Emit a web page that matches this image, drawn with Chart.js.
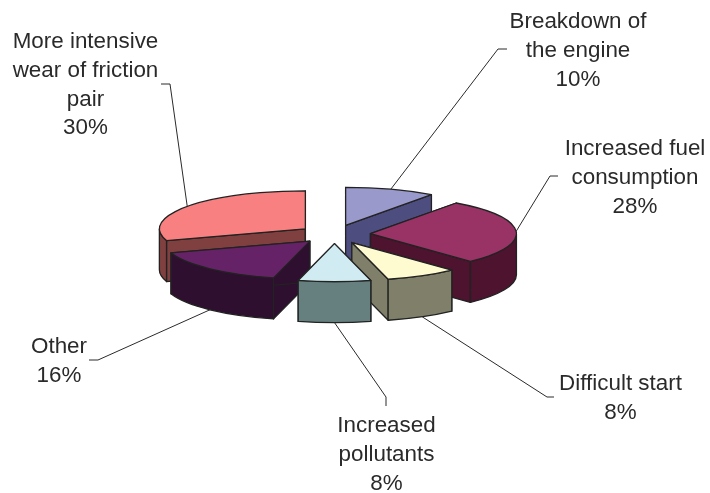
<!DOCTYPE html>
<html lang="en" dir="ltr">
  <head>
    <meta charset="utf-8">
    <title>Consequences of engine wear</title>
    <script src="https://cdn.jsdelivr.net/npm/chart.js@4/dist/chart.umd.js"></script>
    <style>
      html, body { margin: 0; padding: 0; background: #fff; }
      canvas { display: block; }
    </style>
  </head>
  <body>
    <canvas id="chart" width="710" height="493"></canvas>
    <script>
      // Slices run clockwise starting from the wear slice
      const categories = [
        'More intensive wear of friction pair',
        'Breakdown of the engine',
        'Increased fuel consumption',
        'Difficult start',
        'Increased pollutants',
        'Other'
      ];
      const shares = [30, 10, 28, 8, 8, 16];
      const nameLines = [
        ['More intensive', 'wear of friction', 'pair'],
        ['Breakdown of', 'the engine'],
        ['Increased fuel', 'consumption'],
        ['Difficult start'],
        ['Increased', 'pollutants'],
        ['Other']
      ];
      const topColors = ['#f98080', '#9999cc', '#993366', '#fffbd0', '#d0ecf2', '#662266'];
      const wallColors = ['#804040', '#4d4d80', '#4d132f', '#80806a', '#668080', '#2e0f30'];

      // where each caption sits and where its leader line bends
      const captions = [
        { x: 85.5, y: 48, elbow: [170, 84], end: [161, 84] },
        { x: 578, y: 28, elbow: [498, 49], end: [507, 49] },
        { x: 635, y: 155, elbow: [550, 176], end: [558, 176] },
        { x: 620.5, y: 390, elbow: [547, 397], end: [554, 397] },
        { x: 386.5, y: 432, elbow: [386, 397], end: [386, 406] },
        { x: 59, y: 353, elbow: [98, 360], end: [89, 360] }
      ];

      const TILT = 0.26;      // squash of the pie circle
      const DEPTH = 41;       // wall height
      const EXPLODE = 36;     // how far slices move out
      const LINE_HEIGHT = 28.8;

      function sliceGeometry(arc) {
        const { x, y, startAngle, endAngle, outerRadius } = arc.getProps(['x', 'y', 'startAngle', 'endAngle', 'outerRadius']);
        const mid = (startAngle + endAngle) / 2;
        return {
          start: startAngle,
          end: endAngle,
          mid,
          r: outerRadius,
          ox: x + Math.cos(mid) * EXPLODE,
          oy: y + Math.sin(mid) * EXPLODE * TILT
        };
      }

      function rimPoint(g, angle) {
        return [g.ox + Math.cos(angle) * g.r, g.oy + Math.sin(angle) * g.r * TILT];
      }

      function paintFace(ctx, fill, stroke, width) {
        ctx.closePath();
        ctx.fillStyle = fill;
        ctx.fill();
        ctx.strokeStyle = stroke;
        ctx.lineWidth = width;
        ctx.stroke();
      }

      function drawSlice(ctx, arc, wall) {
        const g = sliceGeometry(arc);
        const { backgroundColor, borderColor, borderWidth } = arc.options;

        // flat walls along both cut edges
        [g.start, g.end].forEach(angle => {
          const p = rimPoint(g, angle);
          ctx.beginPath();
          ctx.moveTo(g.ox, g.oy);
          ctx.lineTo(p[0], p[1]);
          ctx.lineTo(p[0], p[1] + DEPTH);
          ctx.lineTo(g.ox, g.oy + DEPTH);
          paintFace(ctx, wall, borderColor, borderWidth);
        });

        // curved wall, only the part turned towards the viewer
        for (let k = -1; k <= 1; k++) {
          const a = Math.max(g.start, k * 2 * Math.PI);
          const b = Math.min(g.end, k * 2 * Math.PI + Math.PI);
          if (b <= a) continue;
          ctx.beginPath();
          ctx.ellipse(g.ox, g.oy, g.r, g.r * TILT, 0, a, b);
          ctx.ellipse(g.ox, g.oy + DEPTH, g.r, g.r * TILT, 0, b, a, true);
          paintFace(ctx, wall, borderColor, borderWidth);
        }

        ctx.beginPath();
        ctx.moveTo(g.ox, g.oy);
        ctx.ellipse(g.ox, g.oy, g.r, g.r * TILT, 0, g.start, g.end);
        paintFace(ctx, backgroundColor, borderColor, borderWidth);
      }

      class ExplodedPieController extends Chart.PieController {
        draw() {
          const ctx = this.chart.ctx;
          // paint back to front so nearer slices cover the walls behind them
          const order = this.getMeta().data
            .map((arc, i) => ({ arc, i, depth: Math.sin(sliceGeometry(arc).mid) }))
            .sort((a, b) => a.depth - b.depth);
          ctx.save();
          ctx.lineJoin = 'round';
          order.forEach(item => drawSlice(ctx, item.arc, wallColors[item.i]));
          ctx.restore();
        }
      }
      ExplodedPieController.id = 'explodedPie';
      ExplodedPieController.defaults = Chart.PieController.defaults;
      Chart.register(ExplodedPieController);

      const captionPlugin = {
        id: 'captions',
        afterDatasetsDraw(chart) {
          const ctx = chart.ctx;
          const arcs = chart.getDatasetMeta(0).data;
          ctx.save();
          ctx.strokeStyle = '#2a2a2a';
          ctx.lineWidth = 1;
          ctx.fillStyle = '#2a2a2a';
          ctx.font = '22.4px "Liberation Sans", Arial, sans-serif';
          ctx.textAlign = 'center';
          ctx.textBaseline = 'alphabetic';
          captions.forEach((c, i) => {
            const g = sliceGeometry(arcs[i]);
            const p = rimPoint(g, g.mid);
            // slices facing front get their line from the bottom of the wall
            const startY = Math.sin(g.mid) > 0.2 ? p[1] + DEPTH : p[1];
            ctx.beginPath();
            ctx.moveTo(p[0], startY);
            ctx.lineTo(c.elbow[0], c.elbow[1]);
            ctx.lineTo(c.end[0], c.end[1]);
            ctx.stroke();

            const lines = nameLines[i].concat(shares[i] + '%');
            lines.forEach((line, n) => ctx.fillText(line, c.x, c.y + n * LINE_HEIGHT));
          });
          ctx.restore();
        }
      };

      new Chart(document.getElementById('chart').getContext('2d'), {
        type: 'explodedPie',
        data: {
          labels: categories,
          datasets: [{
            data: shares,
            backgroundColor: topColors,
            borderColor: '#222',
            borderWidth: 1.3
          }]
        },
        options: {
          responsive: false,
          animation: false,
          rotation: -108,
          cutout: 0,
          radius: 146,
          layout: { padding: { right: 41, bottom: 24.4 } },
          plugins: { legend: { display: false }, tooltip: { enabled: false } }
        },
        plugins: [captionPlugin]
      });
    </script>
  </body>
</html>
